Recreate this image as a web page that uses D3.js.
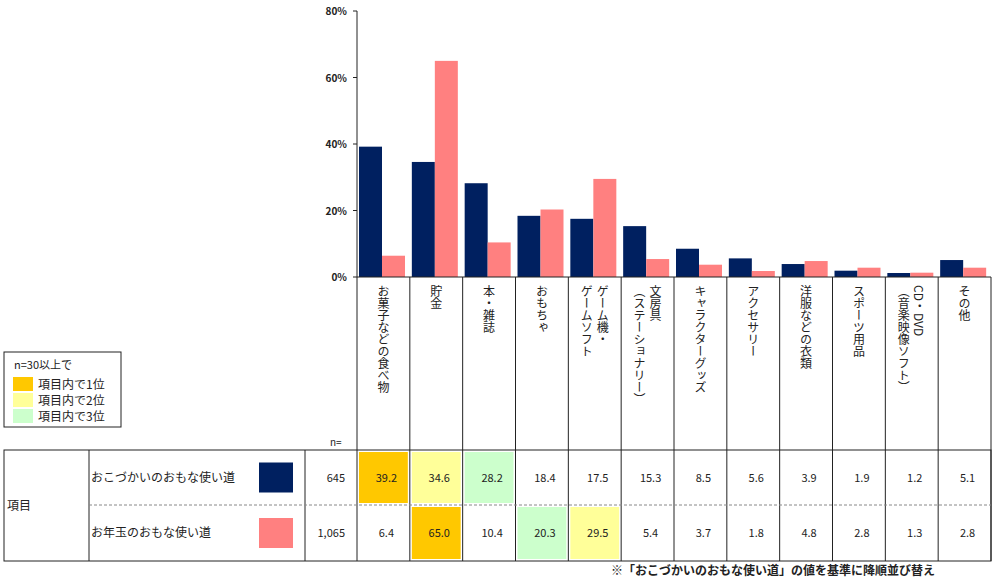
<!DOCTYPE html>
<html><head><meta charset="utf-8">
<script src="https://cdn.jsdelivr.net/npm/d3@7"></script>
<style>body{margin:0;background:#fff}text{font-family:"Noto Sans CJK JP",sans-serif;fill:#222}</style>
</head><body>
<script>
var categories = [["お菓子などの食べ物"],["貯金"],["本・雑誌"],["おもちゃ"],["ゲーム機・","ゲームソフト"],["文房具","（ステーショナリー）"],["キャラクターグッズ"],["アクセサリー"],["洋服などの衣類"],["スポーツ用品"],["CD・DVD","（音楽映像ソフト）"],["その他"]];
var series = ["おこづかいのおもな使い道","お年玉のおもな使い道"];
var nValues = ["645","1,065"];
var pocket = [39.2,34.6,28.2,18.4,17.5,15.3,8.5,5.6,3.9,1.9,1.2,5.1];
var otoshidama = [6.4,65.0,10.4,20.3,29.5,5.4,3.7,1.8,4.8,2.8,1.3,2.8];
var ranks = [[1,2,3,0,0,0,0,0,0,0,0,0],[0,1,0,3,2,0,0,0,0,0,0,0]];
var yTicks = [0,20,40,60,80];
var colors = ["#002060","#FF8080"];
var rankColors = {1:"#FFC800",2:"#FFFF99",3:"#CCFFCC"};

var W=996,H=581, left=357, right=991, top0=11, base=277;
var svg=d3.select("body").append("svg").attr("width",W).attr("height",H);
var x=d3.scaleBand().domain(d3.range(12)).range([left,right]);
var y=d3.scaleLinear().domain([0,80]).range([base,top0]);
var bw=23;

// y axis
svg.append("line").attr("x1",left).attr("x2",left).attr("y1",top0).attr("y2",base).attr("stroke","#222");
svg.selectAll(".yt").data(yTicks).enter().append("text")
  .attr("x",left-10).attr("y",d=>y(d)+4).attr("text-anchor","end")
  .style("font-size","10px").style("font-weight","bold").text(d=>d+"%");
svg.selectAll(".ytk").data(yTicks).enter().append("line")
  .attr("x1",left-4).attr("x2",left).attr("y1",d=>y(d)).attr("y2",d=>y(d)).attr("stroke","#222");

[pocket,otoshidama].forEach(function(vals,s){
  svg.selectAll(".b"+s).data(vals).enter().append("rect")
    .attr("x",(d,i)=>x(i)+2+s*bw).attr("width",bw)
    .attr("y",d=>y(d)).attr("height",d=>base-y(d)).attr("fill",colors[s]);
});

// label area
var tTop=450, tMid=505, tBot=561;
svg.append("line").attr("x1",left).attr("x2",right).attr("y1",base).attr("y2",base).attr("stroke","#222");
d3.range(13).forEach(function(i){
  var xx=i<12?x(i):right;
  svg.append("line").attr("x1",xx).attr("x2",xx).attr("y1",base).attr("y2",tBot).attr("stroke","#222");
});
categories.forEach(function(lines,i){
  lines.forEach(function(t,j){
    svg.append("text").attr("x",x(i)+x.bandwidth()/2+(lines.length>1?(j===0?8:-8):0))
      .attr("y",base+8).style("writing-mode","vertical-rl").style("font-size","12px").text(t);
  });
});

// table
svg.append("rect").attr("x",4).attr("y",tTop).attr("width",right-4).attr("height",tBot-tTop).attr("fill","none").attr("stroke","#222");
[89,305].forEach(function(xx){svg.append("line").attr("x1",xx).attr("x2",xx).attr("y1",tTop).attr("y2",tBot).attr("stroke","#222");});
svg.append("line").attr("x1",89).attr("x2",right).attr("y1",tMid).attr("y2",tMid).attr("stroke","#888").attr("stroke-dasharray","3,2");
svg.append("text").attr("x",7).attr("y",510).style("font-size","12px").text("項目");
svg.append("text").attr("x",330).attr("y",446).style("font-size","10px").text("n=");
series.forEach(function(s,r){
  var cy=r===0?(tTop+tMid)/2:(tMid+tBot)/2;
  svg.append("text").attr("x",91).attr("y",cy+4).style("font-size","12px").text(s);
  svg.append("rect").attr("x",259).attr("y",cy-15).attr("width",34).attr("height",30).attr("fill",colors[r]);
  svg.append("text").attr("x",345).attr("y",cy+4).attr("text-anchor","end").style("font-size","11px").text(nValues[r]);
  var vals=r===0?pocket:otoshidama;
  vals.forEach(function(v,i){
    var y0=r===0?tTop:tMid, y1=r===0?tMid:tBot;
    if(ranks[r][i]) svg.append("rect").attr("x",x(i)+2).attr("y",y0+2).attr("width",x.bandwidth()-4).attr("height",y1-y0-4).attr("fill",rankColors[ranks[r][i]]);
    svg.append("text").attr("x",x(i)+x.bandwidth()/2+3).attr("y",cy+4).attr("text-anchor","middle").style("font-size","11px").text(v.toFixed(1));
  });
});

// legend
var lg=svg.append("g");
lg.append("rect").attr("x",4).attr("y",352).attr("width",117).attr("height",75).attr("fill","#fff").attr("stroke","#222");
lg.append("text").attr("x",14).attr("y",369).style("font-size","11px").text("n=30以上で");
[1,2,3].forEach(function(k,i){
  lg.append("rect").attr("x",13).attr("y",377+i*16).attr("width",20).attr("height",14).attr("fill",rankColors[k]);
  lg.append("text").attr("x",38).attr("y",389+i*16).style("font-size","12px").text("項目内で"+k+"位");
});

svg.append("text").attr("x",935).attr("y",575).attr("text-anchor","end").style("font-size","12px").style("font-weight","bold")
  .text("※「おこづかいのおもな使い道」の値を基準に降順並び替え");
</script>
</body></html>
